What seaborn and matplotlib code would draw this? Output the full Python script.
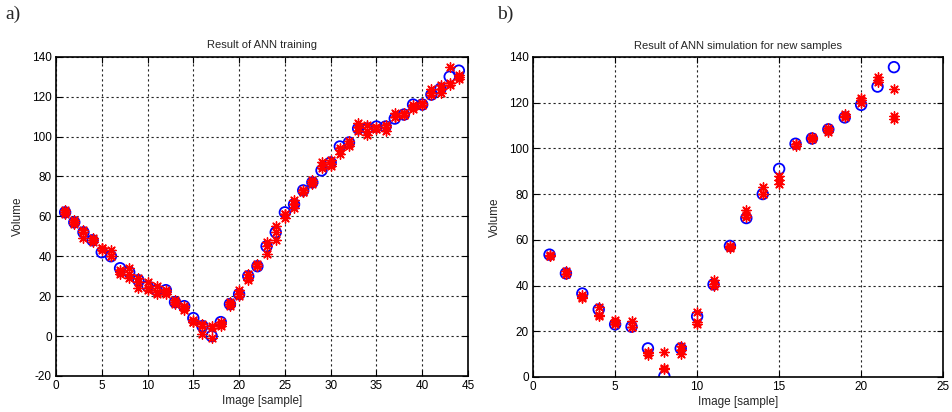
import numpy as np
import pandas as pd
import matplotlib
matplotlib.use("Agg")
import matplotlib.pyplot as plt
import seaborn as sns

# ---- data: training (left) ----
train_samples = list(range(1, 45))
train_target = [62, 57, 52, 48, 42, 40, 34, 32, 28, 25, 23, 23, 17, 15, 9, 5, 0, 7, 16, 21,
                30, 35, 45, 52, 62, 66, 73, 77, 83, 87, 95, 97, 104, 104, 105, 105, 109, 111,
                116, 116, 121, 124, 130, 133]
train_run1 = [63, 58, 53, 49, 44, 43, 32, 34, 29, 27, 25, 23, 18, 15, 8, 6, 5, 7, 17, 23,
              31, 36, 47, 55, 61, 68, 73, 78, 87, 88, 93, 98, 107, 106, 105, 106, 112, 112,
              116, 117, 124, 126, 135, 131]
train_run2 = [61, 56, 49, 47, 43, 40, 31, 29, 24, 23, 21, 21, 16, 13, 7, 1, -1, 5, 15, 20,
              28, 35, 41, 48, 59, 64, 72, 76, 85, 85, 91, 95, 103, 101, 104, 103, 110, 111,
              114, 116, 122, 122, 127, 129]
train_run3 = [62, 57, 52, 48, 44, 40, 33, 31, 27, 24, 22, 22, 17, 14, 7, 5, 4, 6, 16, 21,
              29, 35, 45, 52, 61, 66, 72, 77, 84, 86, 94, 96, 105, 103, 104, 105, 110, 111,
              115, 116, 121, 124, 126, 130]

# ---- data: simulation (right) ----
sim_samples = list(range(1, 23))
sim_target = [53.5, 45.3, 36.5, 29.5, 23, 22, 12.5, 0.3, 12.5, 26.5, 40.5, 57.3, 69.5, 80,
              91, 102, 104.3, 108.3, 113.5, 119, 127, 135.5]
sim_run1 = [53.5, 46.5, 36, 30.5, 25, 24.5, 11, 11, 13.5, 28.5, 42.5, 57.5, 73, 83, 88, 102,
            105, 109, 115, 122, 131, 126]
sim_run2 = [53, 45, 34.5, 26.5, 23, 22, 9.5, 4, 10, 23, 40, 56.5, 71, 80, 84.5, 101, 104, 107,
            114, 120, 129, 114]
sim_run3 = [53, 45, 35, 27, 24, 22, 10.5, 3.5, 12, 24, 40.5, 57, 70, 80, 86, 102, 104.5, 108,
            113.5, 121, 130, 113]

sns.set_theme(style="white")
plt.rcParams['font.family'] = ['Liberation Sans', 'DejaVu Sans']
plt.rcParams['axes.unicode_minus'] = False

fig = plt.figure(figsize=(9.52, 4.12), dpi=100)
ax1 = fig.add_axes([0.0588, 0.0874, 0.4328, 0.775])
ax2 = fig.add_axes([0.560, 0.085, 0.4307, 0.777])

asterisk = (8, 2, 0)


def draw(ax, xs, target, runs, title, xlim, xticks, ylim, yticks):
    for r in runs:
        df = pd.DataFrame({"x": xs, "y": r})
        sns.scatterplot(data=df, x="x", y="y", ax=ax, marker=asterisk, s=45,
                        color="red", edgecolor="red", linewidth=1.0, zorder=3, legend=False)
    df = pd.DataFrame({"x": xs, "y": target})
    sns.scatterplot(data=df, x="x", y="y", ax=ax, marker="o", s=58,
                    color="blue", linewidth=1.3, zorder=2, legend=False)
    coll = ax.collections[-1]
    coll.set_facecolor("none")
    coll.set_edgecolor("blue")
    ax.set_xlim(*xlim)
    ax.set_ylim(*ylim)
    ax.set_xticks(xticks)
    ax.set_yticks(yticks)
    ax.grid(True, color="#222222", linestyle=(0, (2, 2.5)), linewidth=0.8)
    ax.set_axisbelow(True)
    for sp in ax.spines.values():
        sp.set_color("black")
        sp.set_linewidth(1.2)
        sp.set_visible(True)
    ax.tick_params(direction="in", length=4, width=0.8, colors="black",
                   labelsize=8.5, top=True, right=True, bottom=True, left=True, pad=3)
    ax.set_title(title, fontsize=8, pad=6)
    ax.set_xlabel("Image [sample]", fontsize=8.5, labelpad=2)
    ax.set_ylabel("Volume", fontsize=8.5, labelpad=6)


draw(ax1, train_samples, train_target, [train_run1, train_run2, train_run3],
     "Result of ANN training", (0, 45), range(0, 46, 5), (-20, 140), range(-20, 141, 20))
draw(ax2, sim_samples, sim_target, [sim_run1, sim_run2, sim_run3],
     "Result of ANN simulation for new samples", (0, 25), range(0, 26, 5), (0, 140),
     range(0, 141, 20))

fig.text(0.006, 0.985, "a)", fontsize=14, family="Liberation Serif", va="top", ha="left")
fig.text(0.522, 0.985, "b)", fontsize=14, family="Liberation Serif", va="top", ha="left")

fig.savefig("out.png", dpi=100, facecolor="white")
